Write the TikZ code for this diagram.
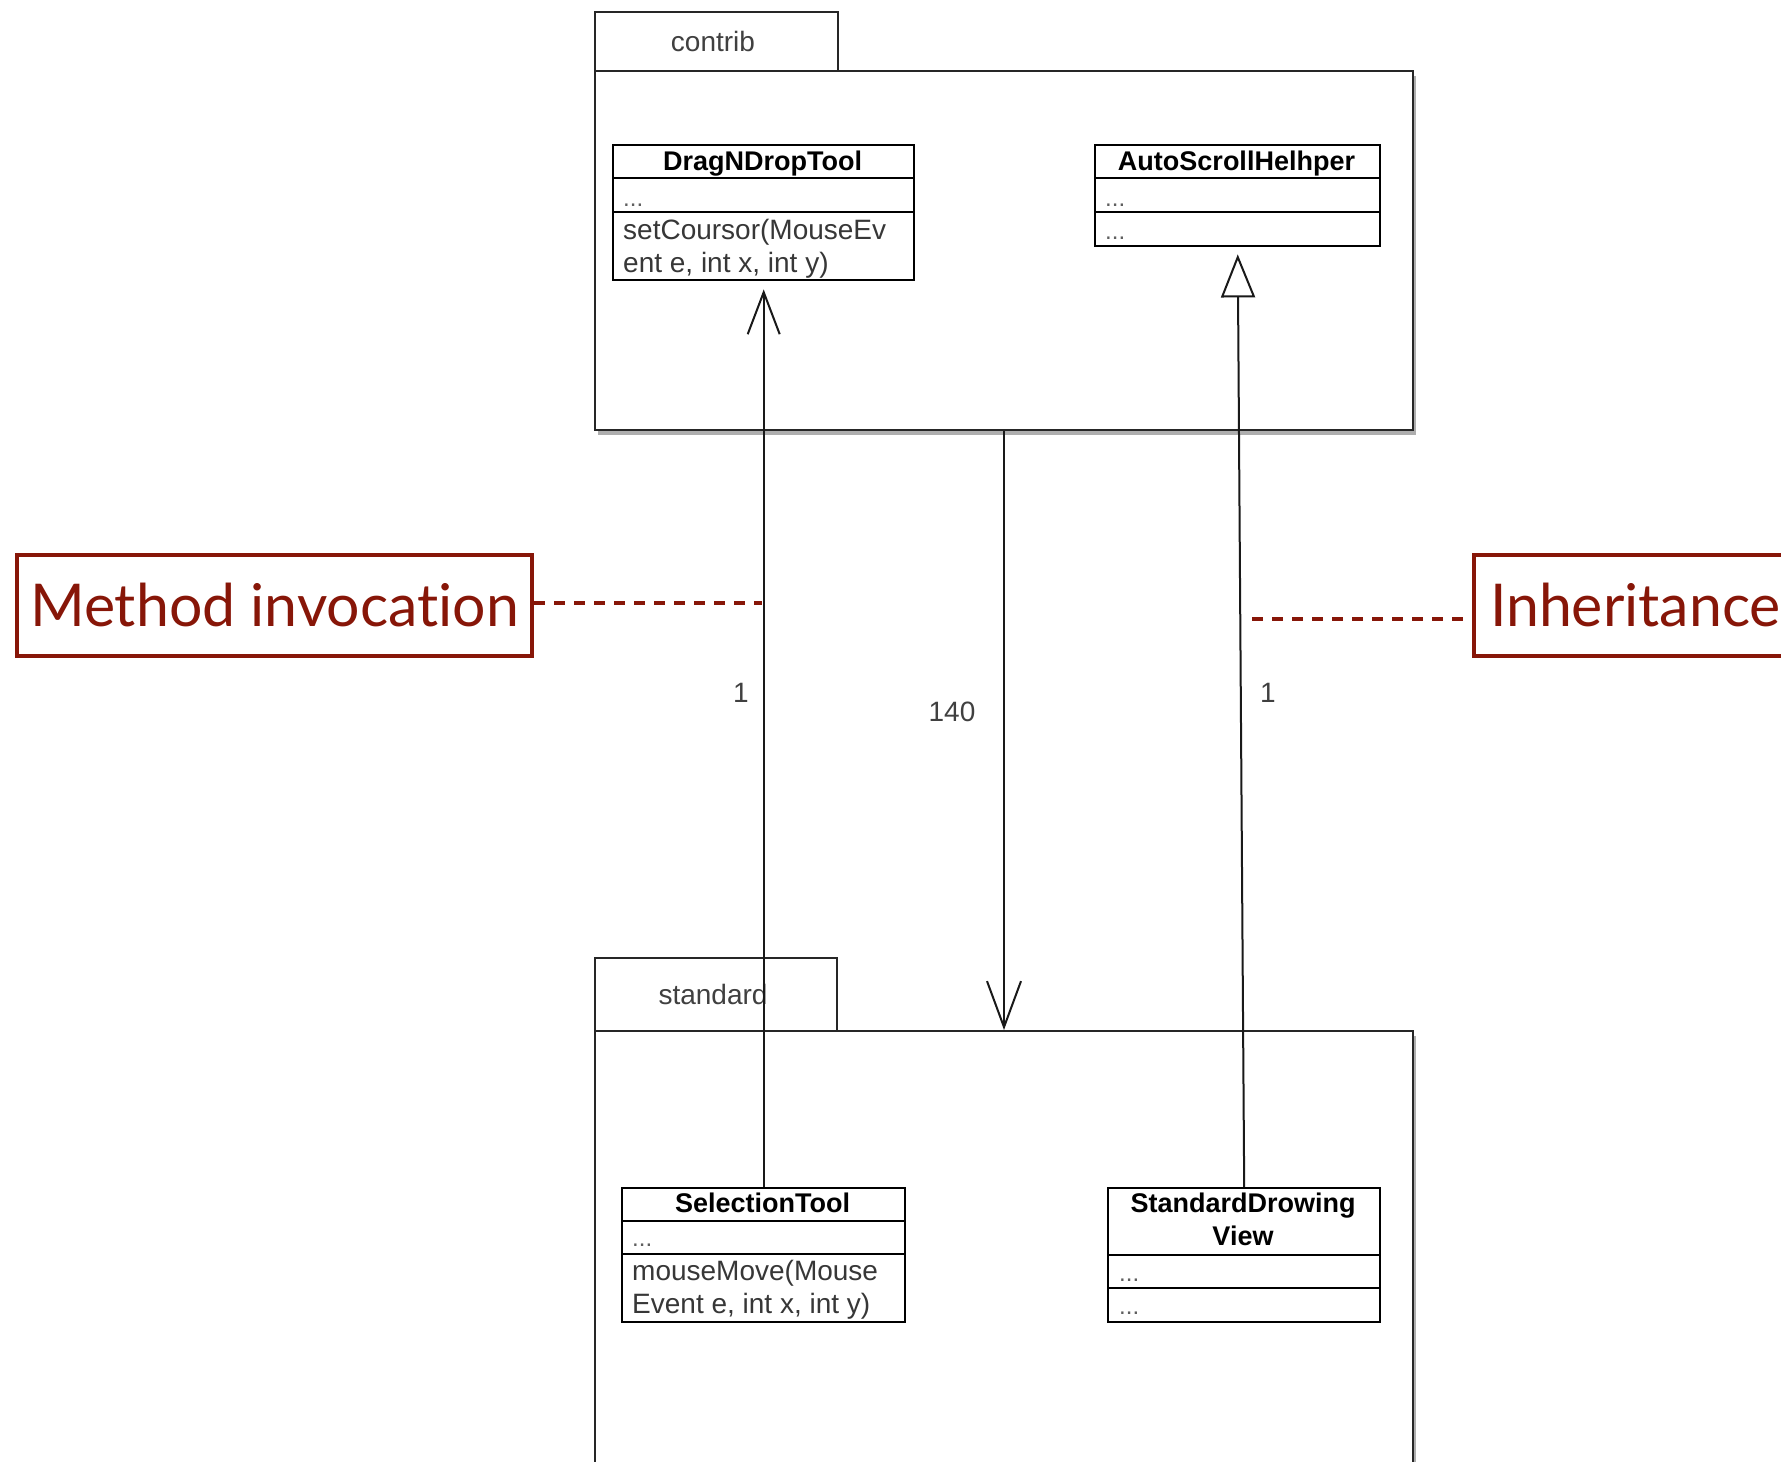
\documentclass[tikz,border=0pt]{standalone}
\usepackage{fontspec}
\setmainfont{Liberation Sans}
\newfontfamily\notefont[Ligatures={NoCommon,NoRequired,NoContextual}]{Lato}
\usetikzlibrary{arrows.meta,shadows}
\definecolor{noteRed}{RGB}{135,22,8}
\definecolor{memberGray}{RGB}{55,55,55}
\begin{document}
\begin{tikzpicture}[x=1pt,y=-1pt,
  pkgtab/.style={draw=black!85, line width=2pt, fill=white, inner sep=0pt, anchor=north west, minimum width=243pt},
  pkgbody/.style={draw=black!85, line width=2pt, fill=white, inner sep=0pt, anchor=north west,
    minimum width=818pt, drop shadow={shadow xshift=3pt, shadow yshift=-5pt, opacity=.45, fill=black!70}},
  classbox/.style={draw=black, line width=2.4pt, fill=white, inner sep=0pt, anchor=north west},
  sep/.style={draw=black, line width=2.4pt},
  cname/.style={font=\bfseries\fontsize{27}{30}\selectfont, anchor=base, inner sep=0pt},
  member/.style={font=\fontsize{28}{33}\selectfont, text=memberGray, anchor=base west, inner sep=0pt},
  dots/.style={font=\fontsize{24}{30}\selectfont, text=memberGray!80, anchor=base west, inner sep=0pt},
  pkgname/.style={font=\fontsize{28}{30}\selectfont, text=black!75, anchor=base, inner sep=0pt},
  mult/.style={font=\fontsize{28}{30}\selectfont, text=black!75, anchor=base, inner sep=0pt},
  conn/.style={draw=black!90, line width=2pt},
  note/.style={draw=noteRed, line width=4pt, text=noteRed, font=\notefont\fontsize{59}{64}\selectfont, minimum height=101pt},
  notelink/.style={draw=noteRed, line width=3.5pt, dash pattern=on 11pt off 9pt}
]
\useasboundingbox (0,0) rectangle (1781,1462);
\clip (0,0) rectangle (1781,1462);

% package "contrib"
\node[pkgtab, minimum height=59pt] (ctab) at (594,11) {};
\node[pkgbody, minimum height=359pt] (cbody) at (594,70) {};
\node[pkgname] (cname) at (713,51) {contrib};

% package "standard"
\node[pkgtab, minimum height=73pt, minimum width=242pt] (stab) at (594,957) {};
\node[pkgbody, minimum height=470pt] (sbody) at (594,1030) {};
\node[pkgname] (sname) at (713,1004) {standard};

% class DragNDropTool
\node[classbox, minimum width=301pt, minimum height=135pt] (dnd) at (612,144) {};
\draw[sep] ([yshift=-34pt]dnd.north west) -- ([yshift=-34pt]dnd.north east);
\draw[sep] ([yshift=-68pt]dnd.north west) -- ([yshift=-68pt]dnd.north east);
\node[cname] (dndn) at (762.5,170) {DragNDropTool};
\node[dots] (dnda) at (623,206) {...};
\node[member] (dndm1) at (623,239) {setCoursor(MouseEv};
\node[member] (dndm2) at (623,272) {ent e, int x, int y)};

% class AutoScrollHelhper
\node[classbox, minimum width=285pt, minimum height=101pt] (ash) at (1094,144) {};
\draw[sep] ([yshift=-34pt]ash.north west) -- ([yshift=-34pt]ash.north east);
\draw[sep] ([yshift=-68pt]ash.north west) -- ([yshift=-68pt]ash.north east);
\node[cname] (ashn) at (1236.5,170) {AutoScrollHelhper};
\node[dots] (asha) at (1105,206) {...};
\node[dots] (ashm) at (1105,239) {...};

% class SelectionTool
\node[classbox, minimum width=283pt, minimum height=134pt] (sel) at (621,1187) {};
\draw[sep] ([yshift=-34pt]sel.north west) -- ([yshift=-34pt]sel.north east);
\draw[sep] ([yshift=-67pt]sel.north west) -- ([yshift=-67pt]sel.north east);
\node[cname] (seln) at (762.5,1212) {SelectionTool};
\node[dots] (sela) at (632,1246) {...};
\node[member] (selm1) at (632,1280) {mouseMove(Mouse};
\node[member] (selm2) at (632,1313) {Event e, int x, int y)};

% class StandardDrowingView
\node[classbox, minimum width=272pt, minimum height=134pt] (sdv) at (1107,1187) {};
\draw[sep] ([yshift=-68pt]sdv.north west) -- ([yshift=-68pt]sdv.north east);
\draw[sep] ([yshift=-101pt]sdv.north west) -- ([yshift=-101pt]sdv.north east);
\node[cname] (sdvn1) at (1243,1212) {StandardDrowing};
\node[cname] (sdvn2) at (1243,1245) {View};
\node[dots] (sdva) at (1119,1281) {...};
\node[dots] (sdvm) at (1119,1314) {...};

% relations
\draw[conn, -{Straight Barb[length=42pt, width=32pt, line width=2pt]}, shorten >=8pt] (sel.north) -- (dnd.south);
\draw[conn, -{Triangle[open, length=43pt, width=34pt, fill=white, line width=2pt]}, shorten >=7pt] (sdv.north) -- (ash.south);
\draw[conn, -{Straight Barb[length=46pt, width=34pt, line width=2pt]}] (cbody.south) -- (sbody.north);

% multiplicities
\node[mult] (m1) at (741,702) {1};
\node[mult] (m2) at (952,721) {140};
\node[mult] (m3) at (1268,702) {1};

% annotations
\node[note, anchor=north west, minimum width=515pt] (mi) at (15,553) {Method invocation};
\coordinate (miend) at (762,603);
\draw[notelink] (mi.east |- miend) -- (miend);

\node[note, anchor=north west, inner xsep=16pt, minimum width=330pt, align=left, text width=298pt] (inh) at (1472,553) {Inheritance};
\coordinate (inhstart) at (1252,619);
\draw[notelink] (inhstart) -- (inhstart -| inh.west);
\end{tikzpicture}
\end{document}
